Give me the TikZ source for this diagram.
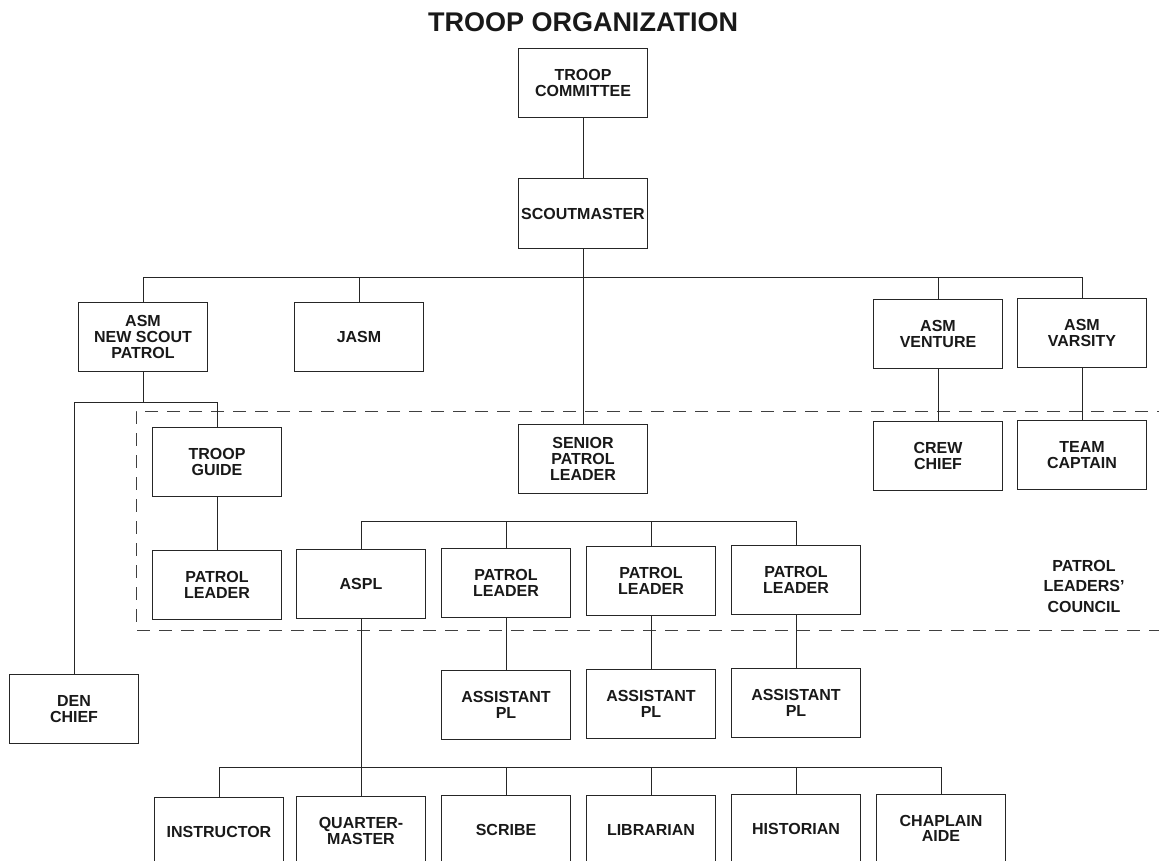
\documentclass[tikz,border=0pt]{standalone}
\usepackage{fontspec}
\setmainfont{Liberation Sans}
\begin{document}
\begin{tikzpicture}[x=1pt,y=-1pt,
  ln/.style={line width=1pt,draw=black!85},
  box/.style={ln,rectangle,minimum width=129pt,minimum height=69pt,inner sep=0pt,align=center,
    text=black!90,font=\fontsize{16}{15.7}\selectfont\bfseries},
  dsh/.style={line width=1pt,draw=black!75,dash pattern=on 13pt off 9pt}]
\useasboundingbox (0,0) rectangle (1159,861);
\clip (0,0) rectangle (1159,861);
\fill[white] (0,0) rectangle (1159,861);
\node[font=\fontsize{27}{30}\selectfont\bfseries,text=black!90] (title) at (583,22) {TROOP ORGANIZATION};
% boxes
\node[box] (com) at (583,83) {TROOP\\COMMITTEE};
\node[box] (sm) at (583,213.5) {SCOUTMASTER};
\node[box] (nsp) at (143,337) {ASM\\NEW SCOUT\\PATROL};
\node[box] (jasm) at (359,337) {JASM};
\node[box] (vent) at (938,334) {ASM\\VENTURE};
\node[box] (vars) at (1082,333) {ASM\\VARSITY};
\node[box] (tg) at (217,462) {TROOP\\GUIDE};
\node[box] (spl) at (583,459) {SENIOR\\PATROL\\LEADER};
\node[box] (crew) at (938,456) {CREW\\CHIEF};
\node[box] (team) at (1082,455) {TEAM\\CAPTAIN};
\node[box] (pll) at (217,585) {PATROL\\LEADER};
\node[box] (aspl) at (361,584) {ASPL};
\node[box] (pla) at (506,583) {PATROL\\LEADER};
\node[box] (plb) at (651,581) {PATROL\\LEADER};
\node[box] (plc) at (796,580) {PATROL\\LEADER};
\node[box] (den) at (74,709) {DEN\\CHIEF};
\node[box] (apla) at (506,705) {ASSISTANT\\PL};
\node[box] (aplb) at (651,704) {ASSISTANT\\PL};
\node[box] (aplc) at (796,703) {ASSISTANT\\PL};
\node[box] (ins) at (219,832) {INSTRUCTOR};
\node[box] (qm) at (361,831) {QUARTER-\\MASTER};
\node[box] (scr) at (506,830) {SCRIBE};
\node[box] (lib) at (651,829.5) {LIBRARIAN};
\node[box] (his) at (796,829) {HISTORIAN};
\node[box] (cha) at (941,828.5) {CHAPLAIN\\AIDE};
\node[align=center,text=black!90,font=\fontsize{16}{20.5}\selectfont\bfseries] (plc-label) at (1084,586) {PATROL\\LEADERS'\\COUNCIL};
% dashed council boundary
\coordinate (dtr) at (1170,411);
\coordinate (dbr) at (1170,630);
\draw[dsh] (dtr) -- (136,411) -- (136,630) -- (dbr);
% connectors
\coordinate (b1) at (583,277);
\coordinate (b2) at (583,521);
\coordinate (b3) at (361,767);
\coordinate (b4) at (143,402);
\draw[ln] (com) -- (sm);
\draw[ln] (sm) -- (spl);
\draw[ln] (nsp.north) |- (b1);
\draw[ln] (vars.north) |- (b1);
\draw[ln] (jasm.north) -- (jasm.north |- b1);
\draw[ln] (vent.north) -- (vent.north |- b1);
\draw[ln] (vent) -- (crew);
\draw[ln] (vars) -- (team);
\draw[ln] (nsp) -- (b4);
\draw[ln] (den.north) |- (b4);
\draw[ln] (tg.north) |- (b4);
\draw[ln] (tg) -- (pll);
\draw[ln] (aspl.north) |- (b2);
\draw[ln] (plc.north) |- (b2);
\draw[ln] (pla.north) -- (pla.north |- b2);
\draw[ln] (plb.north) -- (plb.north |- b2);
\draw[ln] (pla) -- (apla);
\draw[ln] (plb) -- (aplb);
\draw[ln] (plc) -- (aplc);
\draw[ln] (aspl) -- (qm);
\draw[ln] (ins.north) |- (b3);
\draw[ln] (cha.north) |- (b3);
\draw[ln] (scr.north) -- (scr.north |- b3);
\draw[ln] (lib.north) -- (lib.north |- b3);
\draw[ln] (his.north) -- (his.north |- b3);
\end{tikzpicture}
\end{document}
